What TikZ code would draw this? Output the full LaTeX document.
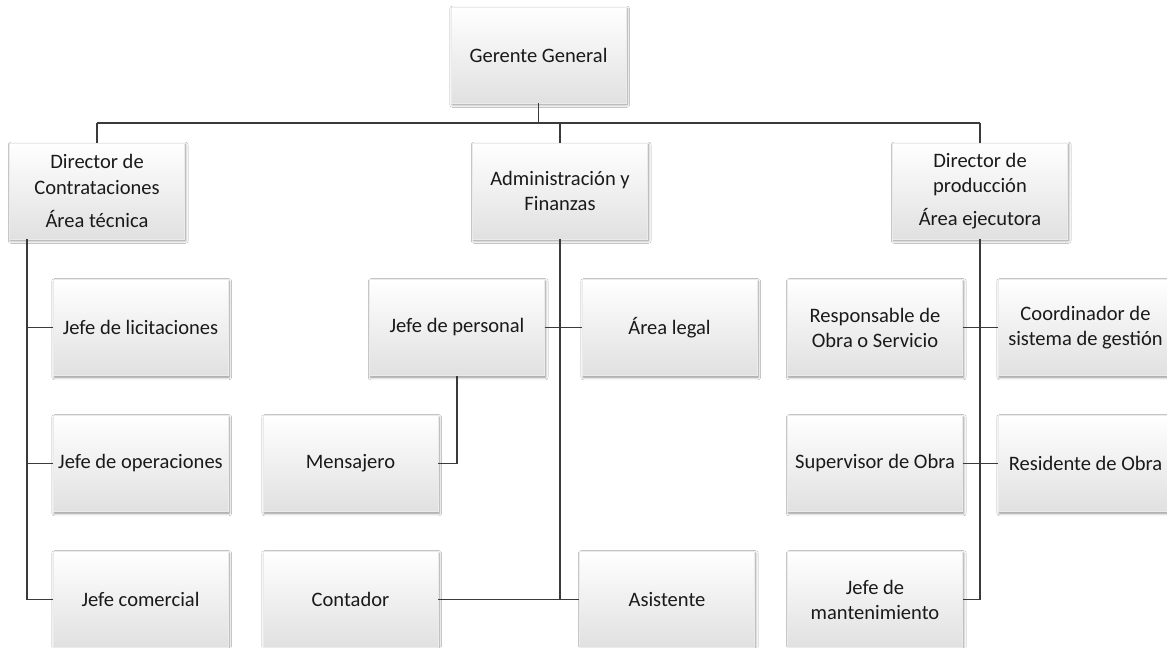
\documentclass[tikz,border=0pt]{standalone}
\usepackage{fontspec}
\setmainfont{Carlito}
\usetikzlibrary{shadows.blur}
\definecolor{txt}{HTML}{1A1A1A}
\definecolor{ln}{HTML}{3A3A3A}
\tikzset{
  box/.style={minimum width=131pt, minimum height=72pt, inner sep=1pt,
    top color=white, middle color=white, bottom color=black!12,
    draw=black!8, line width=0.3pt, align=center, text=txt,
    font=\fontsize{15.4}{18.8}\selectfont,
    blur shadow={shadow xshift=0.9pt, shadow yshift=-1.3pt, shadow blur steps=6, shadow opacity=45}},
  conn/.style={draw=ln, line width=1.1pt}
}
\begin{document}
\begin{tikzpicture}[x=0.75pt, y=-0.75pt]
\useasboundingbox (0,0) rectangle (1167,647);
\clip (0,0) rectangle (1167,647);
\fill[white] (0,0) rectangle (1167,647);
% connectors first
\coordinate (bus) at (0,123);
\coordinate (lv) at (27,0);
% nodes
\node[box] (gg) at (538.5,55) {Gerente General};
\node[box] (dc) at (97,191) {Director de\\Contrataciones\\[6pt]Área técnica};
\node[box] (af) at (560,191) {Administración y\\Finanzas};
\node[box] (dp) at (980,191) {Director de\\producción\\[6pt]Área ejecutora};
\node[box] (jl) at (140.5,327.5) {Jefe de licitaciones};
\node[box] (jo) at (140.5,463.5) {Jefe de operaciones};
\node[box] (jc) at (140.5,599.5) {Jefe comercial};
\node[box] (jp) at (457,327.5) {Jefe de personal};
\node[box] (al) at (669.5,327.5) {Área legal};
\node[box] (me) at (350.5,463.5) {Mensajero};
\node[box] (co) at (350.5,599.5) {Contador};
\node[box] (as) at (667,599.5) {Asistente};
\node[box] (ro) at (875,327.5) {Responsable de\\Obra o Servicio};
\node[box] (cs) at (1085.5,327.5) {Coordinador de\\sistema de gestión};
\node[box] (so) at (875,463.5) {Supervisor de Obra};
\node[box] (rs) at (1085.5,463.5) {Residente de Obra};
\node[box] (jm) at (875,599.5) {Jefe de\\mantenimiento};
% top bus
\draw[conn] (gg.south) -- (gg.south |- bus);
\draw[conn] (dc.north |- bus) -- (dp.north |- bus);
\draw[conn] (dc.north |- bus) -- (dc.north);
\draw[conn] (af.north |- bus) -- (af.north);
\draw[conn] (dp.north |- bus) -- (dp.north);
% left branch
\draw[conn] (lv |- dc.south) -- (lv |- jc.west) -- (jc.west);
\draw[conn] (lv |- jl.west) -- (jl.west);
\draw[conn] (lv |- jo.west) -- (jo.west);
% middle branch
\draw[conn] (af.south) -- (af.south |- co.east);
\draw[conn] (jp.east) -- (al.west);
\draw[conn] (co.east) -- (as.west);
\draw[conn] (jp.south) -- (jp.south |- me.east) -- (me.east);
% right branch
\draw[conn] (dp.south) -- (dp.south |- jm.east) -- (jm.east);
\draw[conn] (ro.east) -- (cs.west);
\draw[conn] (so.east) -- (rs.west);
\end{tikzpicture}
\end{document}
